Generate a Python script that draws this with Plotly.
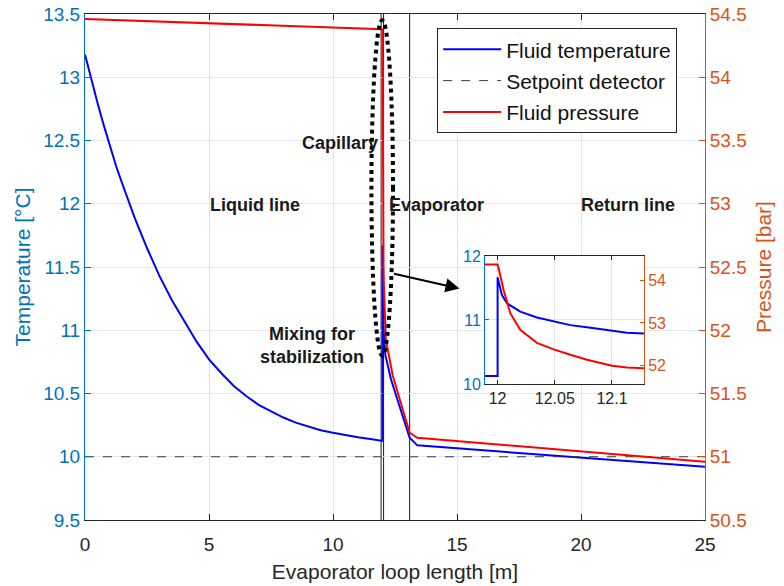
import plotly.graph_objects as go

# ---------------- data ----------------
pos_temp = [0, 0.25, 0.5, 0.75, 1, 1.25, 1.5, 1.75, 2, 2.5, 3, 3.5, 4, 4.5,
            5, 5.5, 6, 6.5, 7, 7.5, 8, 8.5, 9, 9.5, 10, 10.5, 11, 11.5,
            12.0, 12.0, 12.0009, 12.0038, 12.0082, 12.0198, 12.0344, 12.0496,
            12.0636, 12.0781, 12.1, 12.1131, 12.128, 12.34, 13.09, 13.4, 25]
fluid_temp = [13.18, 12.98, 12.8, 12.625, 12.46, 12.3, 12.16, 12.02, 11.89, 11.65,
              11.43, 11.24, 11.07, 10.91,
              10.77, 10.66, 10.56, 10.48, 10.41, 10.36, 10.31, 10.27, 10.24, 10.21,
              10.19, 10.17, 10.155, 10.14,
              10.125, 11.67, 11.6, 11.39, 11.26, 11.13, 11.04, 10.98,
              10.92, 10.885, 10.83, 10.80, 10.79, 10.61, 10.15, 10.09, 9.92]

pos_pres = [0, 12.0, 12.0015, 12.0052, 12.0111, 12.0198, 12.0344, 12.0496,
            12.0636, 12.0781, 12.1, 12.1131, 12.128, 12.41, 13.09, 13.4, 25]
fluid_pres = [54.46, 54.38, 54.22, 53.78, 53.23, 52.84, 52.53, 52.37,
              52.25, 52.13, 51.99, 51.95, 51.93, 51.64, 51.19, 51.15, 50.96]

setpoint_x = [0, 25]
setpoint_temp = [10, 10]

section_bounds = [11.94, 12.04, 13.09]
section_names = ["Liquid line", "Capillary", "Evaporator", "Return line"]

x_ticks = [0, 5, 10, 15, 20, 25]
t_ticks = [9.5, 10, 10.5, 11, 11.5, 12, 12.5, 13, 13.5]
t_ticklabels = ["9.5", "10", "10.5", "11", "11.5", "12", "12.5", "13", "13.5"]
p_ticks = [50.5, 51, 51.5, 52, 52.5, 53, 53.5, 54, 54.5]
p_ticklabels = ["50.5", "51", "51.5", "52", "52.5", "53", "53.5", "54", "54.5"]
inset_x_ticks = [12, 12.05, 12.1]
inset_x_labels = ["12", "12.05", "12.1"]
inset_t_ticks = [10, 11, 12]
inset_p_ticks = [52, 53, 54]

# ---------------- styling ----------------
FONT = "Liberation Sans, Arial, Helvetica, sans-serif"
BLUE_AX = "#0072BD"
ORANGE_AX = "#D95319"
DARK = "#262626"
HGRID = "#dde9f4"
VGRID = "#e3e3e3"

fig = go.Figure()

fig.add_trace(go.Scatter(x=pos_temp, y=fluid_temp, mode="lines", name="Fluid temperature",
                         line=dict(color="#0000ff", width=2), xaxis="x", yaxis="y",
                         legendgroup="a"))
fig.add_trace(go.Scatter(x=setpoint_x, y=setpoint_temp, mode="lines", name="Setpoint detector",
                         line=dict(color="#3a3a3a", width=1, dash="dash"), xaxis="x", yaxis="y",
                         legendgroup="b"))
fig.add_trace(go.Scatter(x=pos_pres, y=fluid_pres, mode="lines", name="Fluid pressure",
                         line=dict(color="#ff0000", width=2), xaxis="x", yaxis="y2",
                         legendgroup="c"))
# inset traces (same data, zoomed axes)
fig.add_trace(go.Scatter(x=pos_temp, y=fluid_temp, mode="lines", showlegend=False,
                         line=dict(color="#0000ff", width=2), xaxis="x2", yaxis="y3"))
fig.add_trace(go.Scatter(x=pos_pres, y=fluid_pres, mode="lines", showlegend=False,
                         line=dict(color="#ff0000", width=2), xaxis="x2", yaxis="y4"))

# section boundaries
for xb in section_bounds:
    fig.add_shape(type="line", xref="x", yref="y domain", x0=xb, x1=xb, y0=0, y1=1,
                  line=dict(color="#1a1a1a", width=1), layer="below")

tick_size = 19
title_size = 21

fig.update_layout(
    width=784, height=586,
    margin=dict(l=85, r=79, t=14, b=66, autoexpand=False),
    paper_bgcolor="white", plot_bgcolor="white",
    font=dict(family=FONT, color=DARK),
    showlegend=True,
    legend=dict(x=0.568, y=0.972, xanchor="left", yanchor="top",
                bgcolor="white", bordercolor=DARK, borderwidth=1,
                font=dict(family=FONT, size=21, color="#111111"),
                itemwidth=58, tracegroupgap=1),
    xaxis=dict(domain=[0, 1], range=[0, 25], tickvals=x_ticks,
               ticktext=[str(v) for v in x_ticks], automargin=False,
               showgrid=True, gridcolor=VGRID, zeroline=False,
               showline=True, linecolor=DARK, linewidth=1, mirror="ticks",
               ticks="inside", ticklen=6, tickcolor=DARK, ticklabelstandoff=7,
               tickfont=dict(family=FONT, size=tick_size, color=DARK),
               title=dict(text="Evaporator loop length [m]", standoff=10,
                          font=dict(family=FONT, size=title_size, color=DARK))),
    yaxis=dict(domain=[0, 1], range=[9.5, 13.5], tickvals=t_ticks, ticktext=t_ticklabels,
               automargin=False,
               showgrid=True, gridcolor=HGRID, zeroline=False,
               showline=True, linecolor=BLUE_AX, linewidth=1,
               ticks="inside", ticklen=6, tickcolor=BLUE_AX,
               tickfont=dict(family=FONT, size=tick_size, color=BLUE_AX),
               title=dict(text="Temperature [°C]", standoff=6,
                          font=dict(family=FONT, size=title_size, color=BLUE_AX))),
    yaxis2=dict(overlaying="y", side="right", anchor="x", range=[50.5, 54.5],
                tickvals=p_ticks, ticktext=p_ticklabels, automargin=False,
                showgrid=False, zeroline=False,
                showline=True, linecolor=ORANGE_AX, linewidth=1,
                ticks="inside", ticklen=6, tickcolor=ORANGE_AX,
                tickfont=dict(family=FONT, size=tick_size, color=ORANGE_AX),
                title=dict(text="Pressure [bar]", standoff=10,
                           font=dict(family=FONT, size=title_size, color=ORANGE_AX))),
    xaxis2=dict(domain=[0.6452, 0.9016], anchor="y3", range=[11.989, 12.128],
                tickvals=inset_x_ticks, ticktext=inset_x_labels,
                showgrid=True, gridcolor=VGRID, zeroline=False,
                showline=True, linecolor=DARK, linewidth=1, mirror="ticks",
                ticks="inside", ticklen=4, tickcolor=DARK,
                tickfont=dict(family=FONT, size=16, color=DARK)),
    yaxis3=dict(domain=[0.2688, 0.5217], anchor="x2", range=[10, 12],
                tickvals=inset_t_ticks, ticktext=[str(v) for v in inset_t_ticks],
                showgrid=True, gridcolor=HGRID, zeroline=False,
                showline=True, linecolor=BLUE_AX, linewidth=1,
                ticks="inside", ticklen=4, tickcolor=BLUE_AX,
                tickfont=dict(family=FONT, size=16, color=BLUE_AX)),
    yaxis4=dict(overlaying="y3", side="right", anchor="x2", range=[51.56, 54.58],
                tickvals=inset_p_ticks, ticktext=[str(v) for v in inset_p_ticks],
                showgrid=False, zeroline=False,
                showline=True, linecolor=ORANGE_AX, linewidth=1,
                ticks="inside", ticklen=4, tickcolor=ORANGE_AX,
                tickfont=dict(family=FONT, size=16, color=ORANGE_AX)),
)

# section labels
label_font = dict(family=FONT, size=18, color="#1a1a1a")
section_label_pos = [(6.85, 11.99), (10.28, 12.48), (14.19, 11.99), (21.9, 11.99)]
for name, (lx, ly) in zip(section_names, section_label_pos):
    fig.add_annotation(x=lx, y=ly, xref="x", yref="y", text=f"<b>{name}</b>",
                       showarrow=False, font=label_font)
fig.add_annotation(x=9.15, y=10.88, xref="x", yref="y",
                   text="<b>Mixing for<br>stabilization</b>", showarrow=False,
                   font=label_font, align="center")

# dotted ellipse around capillary
fig.add_shape(type="circle", xref="x", yref="y", x0=11.55, x1=12.42, y0=10.80, y1=13.45,
              line=dict(color="black", width=4, dash="dot"))

# arrow to inset
fig.add_annotation(x=15.1, y=11.33, xref="x", yref="y", ax=-67, ay=-15,
                   axref="pixel", ayref="pixel", text="", showarrow=True,
                   arrowhead=2, arrowsize=1.4, arrowwidth=2, arrowcolor="black")

fig.write_html("out.html")
